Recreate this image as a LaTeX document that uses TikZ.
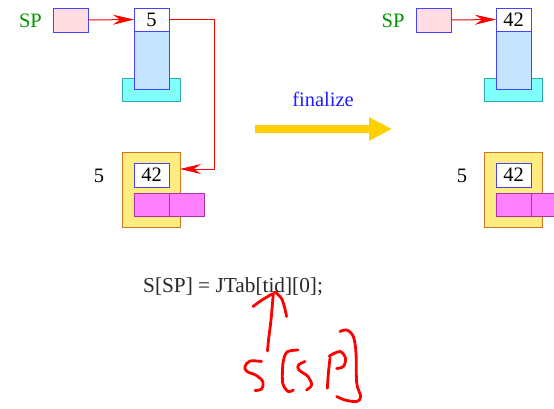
\documentclass[tikz,border=0pt]{standalone}
\usepackage{fontspec}
\setmainfont{Liberation Serif}
\usetikzlibrary{arrows.meta}
\definecolor{pinkfill}{RGB}{255,221,227}
\definecolor{bborder}{RGB}{68,68,255}
\definecolor{lblue}{RGB}{196,228,255}
\definecolor{cyanfill}{RGB}{128,255,255}
\definecolor{cyanborder}{RGB}{51,170,170}
\definecolor{yelfill}{RGB}{255,236,128}
\definecolor{yelborder}{RGB}{204,119,34}
\definecolor{magfill}{RGB}{255,128,255}
\definecolor{magborder}{RGB}{170,51,170}
\definecolor{spgreen}{RGB}{0,150,0}
\definecolor{goldarrow}{RGB}{255,208,0}
\definecolor{txtblue}{RGB}{30,30,255}
\tikzset{
  box/.style={draw, line width=1pt, inner sep=0pt, outer sep=0pt, anchor=north west},
  pinkbox/.style={box, draw=bborder, fill=pinkfill, minimum width=35pt, minimum height=24pt},
  numbox/.style={box, draw=bborder, fill=white, minimum width=35pt, minimum height=23pt},
  stackbox/.style={box, draw=bborder, fill=lblue, minimum width=35pt, minimum height=58pt},
  cyanbox/.style={box, draw=cyanborder, fill=cyanfill, minimum width=58pt, minimum height=23pt},
  yelbox/.style={box, draw=yelborder, fill=yelfill, minimum width=58pt, minimum height=75pt},
  magbox/.style={box, draw=magborder, fill=magfill, minimum width=35pt, minimum height=23pt},
  lbl/.style={inner sep=0pt, anchor=base},
  redarrow/.style={draw=red, line width=1pt, -{Stealth[length=21pt, width=10pt, inset=7pt]}},
  hand/.style={draw=red, line width=2.8pt, line cap=round, line join=round},
}
\begin{document}
\begin{tikzpicture}[x=1pt, y=-1pt, font=\fontsize{20.5}{24}\selectfont]
\clip (0,0) rectangle (554,408);
\fill[white] (0,0) rectangle (554,408);

% ---------- left state ----------
\node[lbl, text=spgreen] (spL) at (30.5,27) {SP};
\node[pinkbox] (pinkL) at (53,8) {};
\node[cyanbox] (cyanL) at (122,78) {};
\node[stackbox] (stackL) at (134,31) {};
\node[numbox] (topL) at (134,8) {5};
\node[lbl] (fiveL) at (99,182) {5};
\node[yelbox] (yelL) at (122,152) {};
\node[numbox, minimum height=24pt] (valL) at (134,163) {42};
\node[magbox] (magLa) at (134,193) {};
\node[magbox] (magLb) at (169,193) {};

\draw[redarrow] (pinkL.east) -- (topL.west);
\coordinate (bend) at (214,169);
\draw[redarrow] (topL.east) -| (bend) -- (bend -| yelL.east);

% ---------- transition ----------
\node[lbl, text=txtblue] (fin) at (323,106.5) {finalize};
\coordinate (ya) at (255,129);
\coordinate (yb) at (392,129);
\draw[goldarrow, line width=8pt, -{Triangle[length=23pt, width=22pt]}] (ya) -- (yb);

% ---------- right state ----------
\node[lbl, text=spgreen] (spR) at (393,27) {SP};
\node[pinkbox] (pinkR) at (416,8) {};
\node[cyanbox] (cyanR) at (484,78) {};
\node[stackbox] (stackR) at (496,31) {};
\node[numbox] (topR) at (496,8) {42};
\node[lbl] (fiveR) at (462,182) {5};
\node[yelbox] (yelR) at (484,152) {};
\node[numbox, minimum height=24pt] (valR) at (496,163) {42};
\node[magbox] (magRa) at (496,193) {};
\node[magbox] (magRb) at (531,193) {};

\draw[redarrow] (pinkR.east) -- (topR.west);

% ---------- code line ----------
\node[inner sep=0pt, anchor=base west, font=\fontsize{21.3}{25}\selectfont, text={rgb,255:red,40;green,40;blue,40}] (code) at (143,292) {S[SP] = JTab[tid][0];};

% ---------- handwritten annotation ----------
\draw[hand] plot[smooth, tension=0.6] coordinates {(253,306.5) (262,300) (272,294)};
\draw[hand] plot[smooth, tension=0.6] coordinates {(273.3,293.3) (271,320) (268.5,340) (267.5,351)};
\draw[hand] plot[smooth, tension=0.6] coordinates {(275,292) (281.5,298.5) (285,309) (286.5,316.5)};
% S
\draw[hand] plot[smooth, tension=0.6] coordinates {(261.5,361.5) (250,361) (245,366.5) (247,371.5) (256.5,375.5) (263,382) (261.5,389) (255,390.5)};
% [
\draw[hand] plot[smooth, tension=0.5] coordinates {(298,350) (287,352) (283,363) (282.7,383) (288,391.5) (293.3,390)};
% S
\draw[hand] plot[smooth, tension=0.6] coordinates {(305,361.5) (298.5,365) (299,370) (308,376.5) (311.5,385) (306.5,390)};
% P
\draw[hand] plot[smooth, tension=0.5] coordinates {(330,358) (328.5,372) (327.3,388.3)};
\draw[hand] plot[smooth, tension=0.6] coordinates {(329.3,356) (340,351.5) (345.5,358.5) (343.3,366.5) (336.7,368.5)};
% ]
\draw[hand] plot[smooth, tension=0.55] coordinates {(340,331.5) (346.7,330) (353.3,336.5) (356,353) (356.7,383) (360.7,396.5) (356.7,401.5) (345,400) (336.7,396.5)};
\end{tikzpicture}
\end{document}
